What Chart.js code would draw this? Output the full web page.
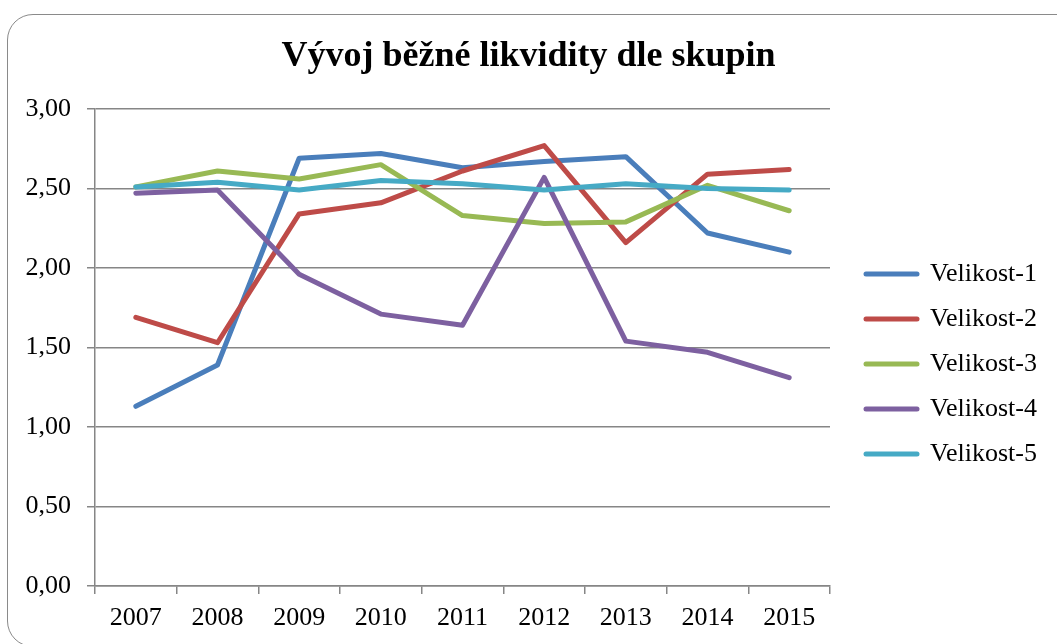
<!DOCTYPE html>
<html><head><meta charset="utf-8">
<script src="https://cdn.jsdelivr.net/npm/chart.js@4"></script>
<style>
html,body{margin:0;padding:0;background:#fff;}
#wrap{position:relative;width:1057px;height:644px;overflow:hidden;background:#fff;}
#frame{position:absolute;left:7px;top:13.5px;width:1120px;height:633px;border:1.5px solid #8a8a8a;border-radius:26px;box-sizing:border-box;}
canvas{position:absolute;left:0;top:0;}
</style></head><body>
<div id="wrap"><div id="frame"></div><canvas id="c" width="1057" height="644"></canvas></div>
<script>
const chartTitle = 'Vývoj běžné likvidity dle skupin';
const categories = ['2007','2008','2009','2010','2011','2012','2013','2014','2015'];
const seriesNames = ['Velikost-1','Velikost-2','Velikost-3','Velikost-4','Velikost-5'];
const velikost1 = [1.13, 1.39, 2.69, 2.72, 2.63, 2.67, 2.70, 2.22, 2.10];
const velikost2 = [1.69, 1.53, 2.34, 2.41, 2.61, 2.77, 2.16, 2.59, 2.62];
const velikost3 = [2.51, 2.61, 2.56, 2.65, 2.33, 2.28, 2.29, 2.52, 2.36];
const velikost4 = [2.47, 2.49, 1.96, 1.71, 1.64, 2.57, 1.54, 1.47, 1.31];
const velikost5 = [2.51, 2.54, 2.49, 2.55, 2.53, 2.49, 2.53, 2.50, 2.49];
const seriesColors = ['#4A7EBB','#BE4B48','#98B954','#7D60A0','#46AAC5'];
const yMin = 0, yMax = 3, yStep = 0.5;

const FONT = 'Liberation Serif, Times New Roman, serif';
const GRAY = '#868686';
const allSeries = [velikost1, velikost2, velikost3, velikost4, velikost5];

const datasets = allSeries.map((vals, i) => ({
  label: seriesNames[i],
  data: vals,
  borderColor: seriesColors[i],
  backgroundColor: seriesColors[i],
  borderWidth: 5,
  borderCapStyle: 'round',
  borderJoinStyle: 'round',
  tension: 0,
  fill: false,
  pointRadius: 0,
  pointHoverRadius: 0,
  pointStyle: 'line',
  pointBorderWidth: 5,
  pointBorderColor: seriesColors[i],
  order: allSeries.length - i
}));

const layoutFix = {
  id: 'layoutFix',
  beforeLayout(chart) {
    const lg = chart.legend;
    if (lg && !lg._patched) {
      const f = lg.fit;
      lg.fit = function() { f.call(this); this.width = 227; };
      lg._patched = true;
    }
  },
  afterLayout(chart) {
    const lg = chart.legend;
    if (lg) {
      lg.left = 847; lg.right = lg.left + 227;
      lg.top = 242; lg.bottom = lg.top + 400;
    }
  }
};

new Chart(document.getElementById('c'), {
  type: 'line',
  data: { labels: categories, datasets },
  plugins: [layoutFix],
  options: {
    responsive: false,
    animation: false,
    events: [],
    layout: { padding: { left: 0, right: 0, top: 0, bottom: 0 } },
    plugins: {
      tooltip: { enabled: false },
      title: {
        display: true,
        text: chartTitle,
        color: '#000',
        font: { family: FONT, size: 36, weight: 'bold', lineHeight: 1.2 },
        padding: { top: 35, bottom: 30.8 }
      },
      legend: {
        display: true,
        position: 'right',
        align: 'start',
        labels: {
          color: '#000',
          font: { family: FONT, size: 26 },
          usePointStyle: true,
          pointStyle: 'line',
          pointStyleWidth: 51,
          padding: 19,
          sort: (a, b) => a.datasetIndex - b.datasetIndex,
          generateLabels(chart) {
            const items = Chart.defaults.plugins.legend.labels.generateLabels(chart);
            items.forEach(it => {
              it.lineCap = 'round';
              it.lineWidth = 5;
              it.strokeStyle = seriesColors[it.datasetIndex];
              it.fillStyle = seriesColors[it.datasetIndex];
            });
            return items;
          }
        }
      }
    },
    scales: {
      x: {
        type: 'category',
        offset: true,
        grid: { display: true, drawOnChartArea: false, offset: true, drawTicks: true, tickLength: 8, color: GRAY, tickColor: GRAY, lineWidth: 1.5, tickWidth: 1.5 },
        border: { display: true, color: GRAY, width: 1.5 },
        ticks: { color: '#000', font: { family: FONT, size: 26, lineHeight: 1.2 }, padding: 9, maxRotation: 0, autoSkip: false },
        afterFit(s) { s.height = 58; }
      },
      y: {
        min: yMin, max: yMax,
        grid: { display: true, drawOnChartArea: true, drawTicks: true, tickLength: 8, color: GRAY, tickColor: GRAY, lineWidth: 1.5, tickWidth: 1.5 },
        border: { display: true, color: GRAY, width: 1.5 },
        ticks: {
          stepSize: yStep,
          color: '#000',
          font: { family: FONT, size: 26 },
          padding: 16,
          callback: v => Number(v).toFixed(2).replace('.', ',')
        },
        afterFit(s) { s.width = 95; }
      }
    }
  }
});
</script>
</body></html>
